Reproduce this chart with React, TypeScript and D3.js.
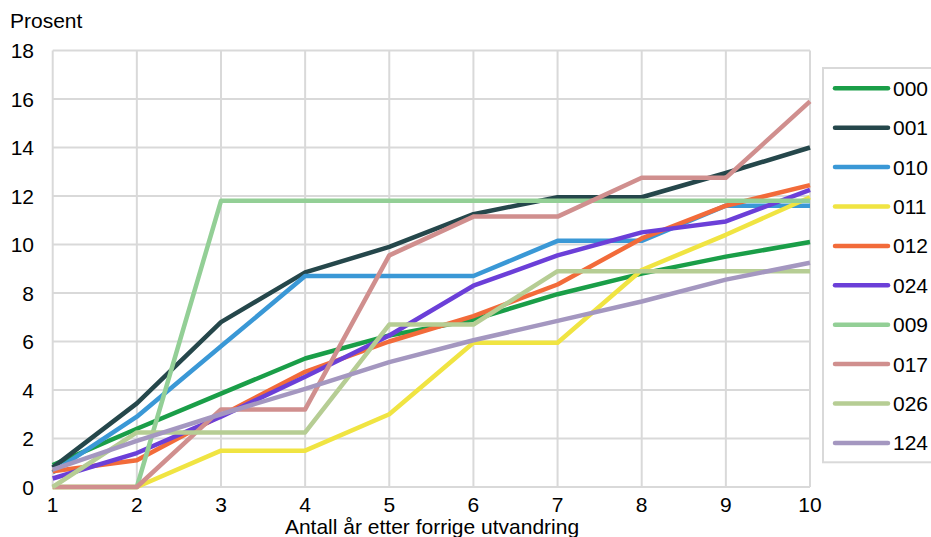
import React from "react";
import * as d3 from "d3";

const years = [1, 2, 3, 4, 5, 6, 7, 8, 9, 10];
const yTicks = [0, 2, 4, 6, 8, 10, 12, 14, 16, 18];

const seriesNames = ["000", "001", "010", "011", "012", "024", "009", "017", "026", "124"];
const seriesColors = ["#1a9e48", "#25474b", "#3a98d6", "#f0e442", "#f26b3a", "#6b3fd8", "#93cf96", "#d08f8e", "#b6cd94", "#a497c0"];

const s000 = [0.9, 2.4, 3.85, 5.3, 6.25, 6.9, 7.95, 8.8, 9.5, 10.1];
const s001 = [0.8, 3.45, 6.8, 8.85, 9.9, 11.25, 11.95, 11.95, 12.95, 14.0];
const s010 = [0.6, 2.9, 5.8, 8.7, 8.7, 8.7, 10.15, 10.15, 11.6, 11.6];
const s011 = [0, 0, 1.5, 1.5, 3.0, 5.95, 5.95, 8.95, 10.4, 11.95];
const s012 = [0.65, 1.1, 2.95, 4.75, 6.0, 7.05, 8.35, 10.25, 11.6, 12.45];
const s024 = [0.35, 1.4, 2.9, 4.55, 6.25, 8.3, 9.55, 10.5, 10.95, 12.25];
const s009 = [0, 0, 11.8, 11.8, 11.8, 11.8, 11.8, 11.8, 11.8, 11.8];
const s017 = [0, 0, 3.2, 3.2, 9.55, 11.15, 11.15, 12.75, 12.75, 15.9];
const s026 = [0, 2.25, 2.25, 2.25, 6.7, 6.7, 8.9, 8.9, 8.9, 8.9];
const s124 = [0.72, 1.9, 3.0, 4.05, 5.15, 6.05, 6.85, 7.65, 8.55, 9.25];

const seriesValues = [s000, s001, s010, s011, s012, s024, s009, s017, s026, s124];

const W = 931;
const H = 537;
const FONT = "'Liberation Sans', Arial, sans-serif";
const FS = 21;

export default function App() {
  const x = d3.scaleLinear().domain([1, 10]).range([52.7, 810]);
  const y = d3.scaleLinear().domain([0, 18]).range([487, 50.5]);
  const line = d3
    .line<number>()
    .x((_, i) => x(years[i]))
    .y((d) => y(d));

  const legendX = 823;
  const legendTop = 68;
  const legendStep = 39.4;
  const legendFirst = 88.3;

  return (
    <div style={{ position: "fixed", left: 0, top: 0, background: "#fff" }}>
      <svg width={W} height={H} style={{ display: "block" }} fontFamily={FONT}>
        <rect x={0} y={0} width={W} height={H} fill="#fff" />
        {/* grid */}
        {yTicks.map((t) => (
          <line key={"gy" + t} x1={x(1)} x2={x(10)} y1={y(t)} y2={y(t)} stroke="#d9d9d9" strokeWidth={2} />
        ))}
        {years.map((t) => (
          <line key={"gx" + t} x1={x(t)} x2={x(t)} y1={y(0)} y2={y(18)} stroke="#d9d9d9" strokeWidth={2} />
        ))}
        {/* series */}
        {seriesValues.map((vals, i) => (
          <path
            key={seriesNames[i]}
            d={line(vals) || ""}
            fill="none"
            stroke={seriesColors[i]}
            strokeWidth={4.5}
            strokeLinejoin="round"
          />
        ))}
        {/* y ticks */}
        {yTicks.map((t) => (
          <text key={"yt" + t} x={34} y={y(t) + 7.5} textAnchor="end" fontSize={FS} fill="#000">
            {t}
          </text>
        ))}
        {/* x ticks */}
        {years.map((t) => (
          <text key={"xt" + t} x={x(t)} y={512} textAnchor="middle" fontSize={FS} fill="#000">
            {t}
          </text>
        ))}
        <text x={10} y={28} fontSize={FS} fill="#000">
          Prosent
        </text>
        <text x={432} y={534} textAnchor="middle" fontSize={FS} fill="#000">
          Antall år etter forrige utvandring
        </text>
        {/* legend */}
        <rect x={legendX} y={legendTop} width={W - legendX + 10} height={462.3 - legendTop} fill="#fff" stroke="#d9d9d9" strokeWidth={2} />
        {seriesNames.map((name, i) => {
          const ly = legendFirst + i * legendStep;
          return (
            <g key={"lg" + name}>
              <line x1={835} x2={888} y1={ly} y2={ly} stroke={seriesColors[i]} strokeWidth={4.5} strokeLinecap="round" />
              <text x={893} y={ly + 7.5} fontSize={FS} fill="#000">
                {name}
              </text>
            </g>
          );
        })}
      </svg>
    </div>
  );
}
